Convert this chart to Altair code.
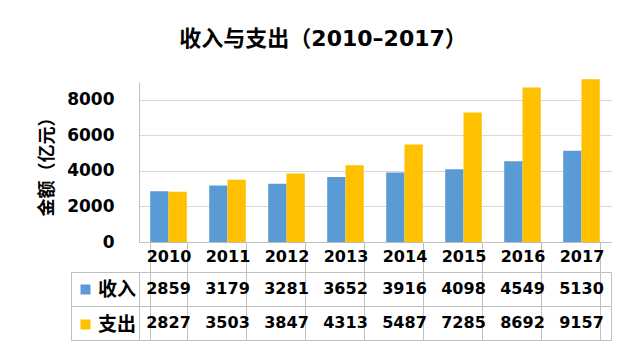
import altair as alt
import pandas as pd

years = ["2010", "2011", "2012", "2013", "2014", "2015", "2016", "2017"]
income = [2859, 3179, 3281, 3652, 3916, 4098, 4549, 5130]
expense = [2827, 3503, 3847, 4313, 5487, 7285, 8692, 9157]
series = ["收入", "支出"]
colors = ["#5B9BD5", "#FFC000"]
y_ticks = [0, 2000, 4000, 6000, 8000]

rows = []
for yr, a, b in zip(years, income, expense):
    rows.append({"year": yr, "series": series[0], "value": a})
    rows.append({"year": yr, "series": series[1], "value": b})
df = pd.DataFrame(rows)

CJK = "Noto Sans CJK SC"
NUM = "DejaVu Sans, Noto Sans CJK SC"
W = 472
LINE = "#bfbfbf"

xscale = alt.Scale(type="band", domain=years, paddingInner=0.38, paddingOuter=0.19)

bars = alt.Chart(df).mark_bar().encode(
    x=alt.X("year:N", sort=years, scale=xscale,
            axis=alt.Axis(title=None, labelAngle=0, labelFont=NUM, labelFontSize=16,
                          labelFontWeight="bold", labelColor="black", labelPadding=-24,
                          tickBand="extent", ticks=True, tickSize=30, tickColor=LINE,
                          domainColor=LINE, grid=False)),
    xOffset=alt.XOffset("series:N", sort=series, scale=alt.Scale(domain=series, paddingInner=0, paddingOuter=0)),
    y=alt.Y("value:Q", scale=alt.Scale(domain=[0, 9000], nice=False),
            axis=alt.Axis(values=y_ticks, format="d", title="金额（亿元）", titleFont=CJK, titleFontSize=18,
                          titleFontWeight="bold", titleColor="black", titlePadding=10,
                          labelFont=NUM, labelFontSize=17, labelFontWeight="bold",
                          labelColor="black", labelPadding=25, ticks=False,
                          grid=True, gridColor="#d9d9d9", domainColor=LINE)),
    color=alt.Color("series:N", sort=series, scale=alt.Scale(domain=series, range=colors),
                    legend=alt.Legend(title=None, orient="none", legendX=-63, legendY=198,
                                      symbolType="square", symbolSize=100, symbolStrokeWidth=0,
                                      labelFont=CJK, labelFontSize=19, labelFontWeight="bold",
                                      labelColor="black", rowPadding=15, labelOffset=3)),
).properties(width=W, height=160, view=alt.ViewBackground(stroke=None))

tx = alt.X("year:N", sort=years, scale=xscale,
           axis=alt.Axis(title=None, labels=False, ticks=False, domain=False, grid=True,
                         tickBand="extent", gridColor=LINE))
tscale = alt.Scale(type="band", domain=series, paddingInner=0, paddingOuter=0)

text = alt.Chart(df).mark_text(font=NUM, fontSize=16, fontWeight="bold", color="black").encode(
    x=tx,
    y=alt.Y("series:N", sort=series, scale=tscale,
            axis=alt.Axis(title=None, labels=False, ticks=True, tickSize=68, tickBand="extent",
                          tickColor=LINE, domain=False, grid=True, gridColor=LINE, orient="left")),
    text=alt.Text("value:Q", format="d"),
)
edge = alt.Chart(df).mark_text(opacity=0).encode(
    x=tx,
    y=alt.Y("series:N", sort=series, scale=tscale,
            axis=alt.Axis(title=None, labels=False, ticks=False, domain=True, domainColor=LINE,
                          grid=False, orient="left", offset=68)),
    text=alt.Text("value:Q", format="d"),
)
table = alt.layer(text, edge).resolve_axis(y="independent").properties(
    width=W, height=68, view=alt.ViewBackground(stroke=LINE))

chart = alt.vconcat(bars, table, spacing=30, bounds="flush").properties(
    title=alt.TitleParams("收入与支出（2010–2017）", font=NUM, fontSize=22, fontWeight="bold",
                          color="black", anchor="middle", offset=28, dx=-2),
    padding={"left": 30, "top": 20, "right": 5, "bottom": 5},
)

chart.save("out.html", embed_options={"renderer": "svg", "actions": False})
